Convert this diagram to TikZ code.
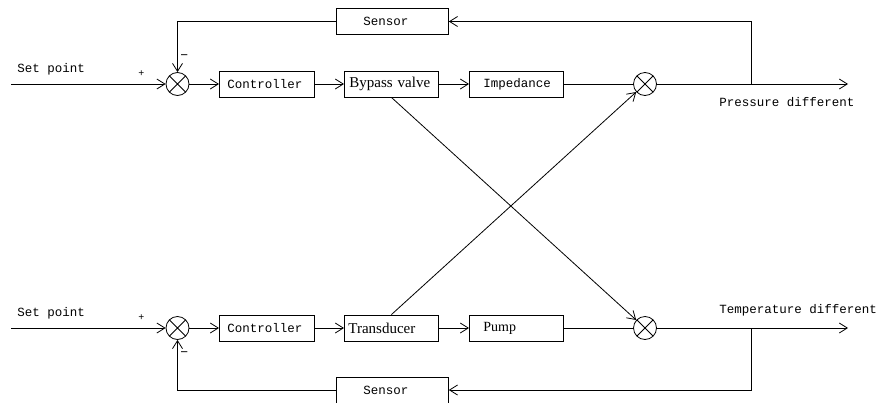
\documentclass[tikz,border=0pt]{standalone}
\usepackage{fontspec}
\setmonofont{Liberation Mono}
\setmainfont{Liberation Serif}
\usetikzlibrary{arrows.meta}
\begin{document}
\begin{tikzpicture}[x=1pt,y=-1pt, line width=0.8pt,
 box/.style={draw, minimum height=26pt, inner ysep=0pt, anchor=west, align=left},
 sumc/.style={draw, circle, minimum size=23pt, inner sep=0pt,
   path picture={\draw (path picture bounding box.north east)--(path picture bounding box.south west)
                        (path picture bounding box.north west)--(path picture bounding box.south east);}},
 arr/.style={-{Straight Barb[length=8pt,width=10pt]}},
 mono/.style={font=\fontsize{12.5}{14}\selectfont\ttfamily},
 serif/.style={font=\fontsize{15}{17}\selectfont\rmfamily},
 lbl/.style={mono, inner sep=0pt, anchor=west},
 sgn/.style={lbl, font=\fontsize{10}{12}\selectfont\ttfamily},
 minus/.style={lbl, font=\fontsize{13}{14}\selectfont\ttfamily}]
\useasboundingbox (0,0) rectangle (889,402);

% top loop
\node[sumc] (s1) at (177.5,84) {};
\node[box, mono, inner xsep=8pt, text width=79pt] (c1) at (219,84) {Controller};
\node[box, serif, inner xsep=5pt, text width=84pt] (bv) at (344,84) {Bypass valve};
\node[box, mono, inner xsep=14pt, text width=66pt] (imp) at (469,84) {Impedance};
\node[sumc] (s2) at (645,84) {};
\node[box, mono, inner xsep=27pt, text width=58pt] (sen1) at (336,21.5) {Sensor};
\coordinate (in1) at (11,84);
\coordinate (br1) at (751,84);
\coordinate (out1) at (848,84);

\draw[arr] (in1) -- (s1);
\draw[arr] (s1) -- (c1);
\draw[arr] (c1) -- (bv);
\draw[arr] (bv) -- (imp);
\draw (imp) -- (s2);
\draw[arr] (s2) -- (out1);
\draw[arr] (br1) |- (sen1);
\draw[arr] (sen1) -| (s1);

\node[lbl] (sp1) at (17,69) {Set point};
\node[sgn] (p1) at (138,74) {+};
\node[minus] (m1) at (180,57) {−};
\node[lbl] (pd) at (719,102) {Pressure different};

% bottom loop
\node[sumc] (s1b) at (177.5,328) {};
\node[box, mono, inner xsep=8pt, text width=79pt] (c2) at (219,328) {Controller};
\node[box, serif, inner xsep=4pt, text width=86pt] (td) at (344,328) {Transducer};
\node[box, serif, font=\fontsize{14}{16}\selectfont\rmfamily, inner xsep=14pt, text width=66pt] (pump) at (469,328) {Pump};
\node[sumc] (s2b) at (645,328) {};
\node[box, mono, inner xsep=27pt, text width=58pt] (sen2) at (336,390) {Sensor};
\coordinate (in2) at (11,328);
\coordinate (br2) at (751,328);
\coordinate (out2) at (848,328);

\draw[arr] (in2) -- (s1b);
\draw[arr] (s1b) -- (c2);
\draw[arr] (c2) -- (td);
\draw[arr] (td) -- (pump);
\draw (pump) -- (s2b);
\draw[arr] (s2b) -- (out2);
\draw[arr] (br2) |- (sen2);
\draw[arr] (sen2) -| (s1b);

\node[lbl] (sp2) at (17,313) {Set point};
\node[sgn] (p2) at (138,318) {+};
\node[minus] (m2) at (180,354) {−};
\node[lbl] (tdf) at (719,310) {Temperature different};

% cross couplings
\draw[arr] (bv.south) -- (s2b);
\draw[arr] (td.north) -- (s2);
\end{tikzpicture}
\end{document}
